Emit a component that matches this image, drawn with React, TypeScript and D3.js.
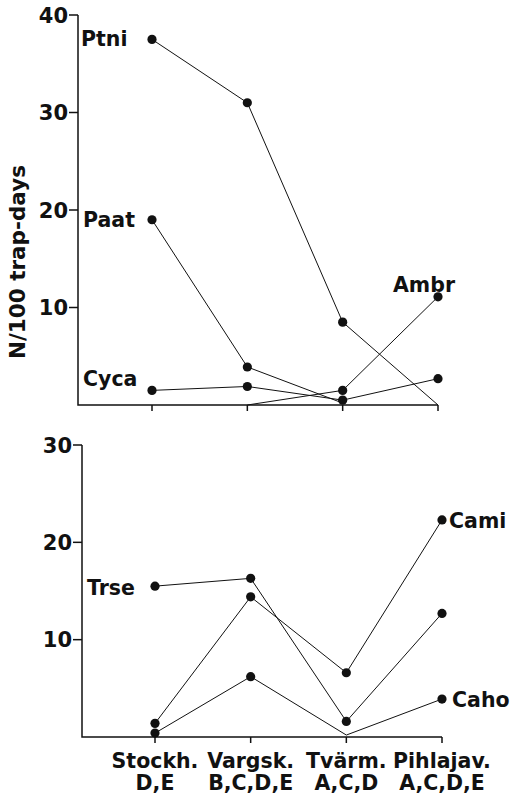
import * as d3 from 'd3';

const sites = ['Stockh.', 'Vargsk.', 'Tvärm.', 'Pihlajav.'];
const siteCodes = ['D,E', 'B,C,D,E', 'A,C,D', 'A,C,D,E'];
const topTicks = [10, 20, 30, 40];
const bottomTicks = [10, 20, 30];

// upper panel
const ptni = [37.5, 31.0, 8.5, 0];
const paat = [19.0, 3.9, 0.2, null];
const cyca = [1.5, 1.9, 0.5, 2.7];
const ambr = [null, 0, 1.5, 11.1];
// lower panel
const trse = [15.5, 16.3, 1.6, 12.7];
const cami = [1.4, 14.4, 6.6, 22.3];
const caho = [0.4, 6.2, 0.2, 3.9];

const font = '"DejaVu Sans", Arial, sans-serif';
const ink = '#111';

type Val = number | null;

function Panel({
  series,
  ticks,
  yMax,
  top,
  bottom,
  left,
  xRange,
}: {
  series: Val[][];
  ticks: number[];
  yMax: number;
  top: number;
  bottom: number;
  left: number;
  xRange: [number, number];
}) {
  const x = d3.scalePoint<string>().domain(sites).range(xRange);
  const y = d3.scaleLinear().domain([0, yMax]).range([bottom, top]);
  const line = d3
    .line<Val>()
    .defined((d) => d !== null)
    .x((_, i) => x(sites[i]) as number)
    .y((d) => y(d as number));

  return (
    <g>
      {series.map((s, k) => (
        <path key={k} d={line(s) || ''} fill="none" stroke={ink} strokeWidth={1} />
      ))}
      {series.map((s, k) =>
        s.map((v, i) =>
          // tiny / zero values sit on the axis with no dot
          v !== null && v > 0.3 ? (
            <circle key={k + '-' + i} cx={x(sites[i])} cy={y(v)} r={4.6} fill={ink} />
          ) : null
        )
      )}
      <path
        d={`M${left},${y(yMax)}V${bottom}H${xRange[1]}`}
        fill="none"
        stroke={ink}
        strokeWidth={1.5}
      />
      {ticks.map((t) => (
        <g key={t}>
          <line x1={left - 9} x2={left} y1={y(t)} y2={y(t)} stroke={ink} strokeWidth={1.5} />
          <text
            x={left - 10}
            y={y(t)}
            dy="0.36em"
            textAnchor="end"
            fontSize={21}
            fontWeight="bold"
            fontFamily={font}
            fill={ink}
          >
            {t}
          </text>
        </g>
      ))}
      {sites.map((s) => (
        <line
          key={s}
          x1={x(s)}
          x2={x(s)}
          y1={bottom}
          y2={bottom + 6}
          stroke={ink}
          strokeWidth={1.5}
        />
      ))}
    </g>
  );
}

function Label({ x, y, children }: { x: number; y: number; children: string }) {
  return (
    <text x={x} y={y} fontSize={20.5} fontWeight="bold" fontFamily={font} fill={ink}>
      {children}
    </text>
  );
}

export default function App() {
  const bottomX = d3.scalePoint<string>().domain(sites).range([155, 442]);
  return (
    <svg
      width={515}
      height={798}
      style={{ position: 'absolute', left: 0, top: 0, background: '#fff' }}
    >
      <Panel
        series={[ptni, paat, cyca, ambr]}
        ticks={topTicks}
        yMax={40}
        top={15}
        bottom={405}
        left={78}
        xRange={[152, 438]}
      />
      <Panel
        series={[trse, cami, caho]}
        ticks={bottomTicks}
        yMax={30}
        top={445}
        bottom={737}
        left={82}
        xRange={[155, 442]}
      />
      <Label x={81} y={46}>Ptni</Label>
      <Label x={83} y={227}>Paat</Label>
      <Label x={83} y={386}>Cyca</Label>
      <Label x={393} y={292}>Ambr</Label>
      <Label x={87} y={595}>Trse</Label>
      <Label x={449} y={528}>Cami</Label>
      <Label x={452} y={707}>Caho</Label>
      <text
        transform="translate(25,262) rotate(-90)"
        textAnchor="middle"
        fontSize={21.5}
        fontWeight="bold"
        fontFamily={font}
        fill={ink}
      >
        N/100 trap-days
      </text>
      {sites.map((s, i) => (
        <text
          key={s}
          x={bottomX(s)}
          textAnchor="middle"
          fontSize={20.5}
          fontWeight="bold"
          fontFamily={font}
          fill={ink}
        >
          <tspan x={bottomX(s)} y={768}>{s}</tspan>
          <tspan x={bottomX(s)} y={790}>{siteCodes[i]}</tspan>
        </text>
      ))}
    </svg>
  );
}
